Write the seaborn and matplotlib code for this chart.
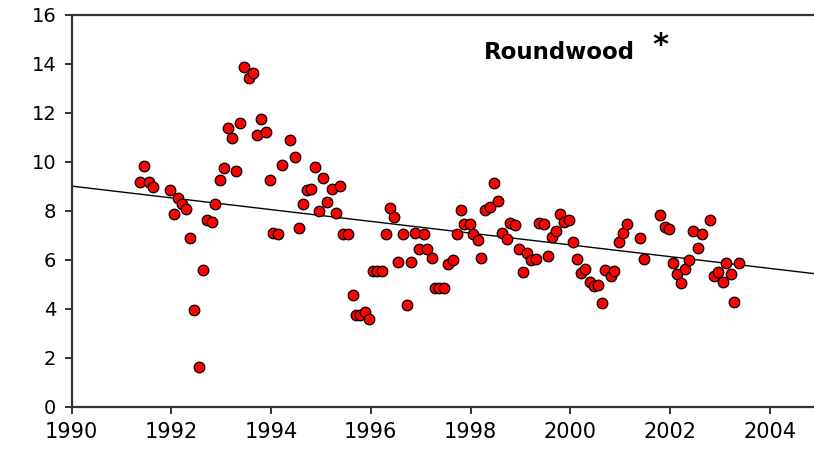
import matplotlib
matplotlib.use('Agg')
import matplotlib.pyplot as plt
import seaborn as sns
import pandas as pd

years = [1991.37, 1991.46, 1991.55, 1991.63, 1991.97, 1992.05, 1992.13, 1992.22, 1992.30, 1992.38,
         1992.46, 1992.55, 1992.63, 1992.72, 1992.81, 1992.88, 1992.97, 1993.05, 1993.14, 1993.22,
         1993.30, 1993.38, 1993.46, 1993.55, 1993.63, 1993.72, 1993.80, 1993.89, 1993.97, 1994.04,
         1994.14, 1994.22, 1994.38, 1994.47, 1994.55, 1994.63, 1994.71, 1994.80, 1994.89, 1994.97,
         1995.05, 1995.13, 1995.22, 1995.30, 1995.38, 1995.45, 1995.55, 1995.64, 1995.70, 1995.78,
         1995.88, 1995.97, 1996.05, 1996.13, 1996.22, 1996.30, 1996.39, 1996.47, 1996.55, 1996.64,
         1996.72, 1996.80, 1996.89, 1996.97, 1997.06, 1997.13, 1997.22, 1997.29, 1997.37, 1997.47,
         1997.55, 1997.64, 1997.72, 1997.80, 1997.87, 1997.98, 1998.04, 1998.14, 1998.22, 1998.29,
         1998.39, 1998.47, 1998.56, 1998.63, 1998.73, 1998.79, 1998.89, 1998.97, 1999.06, 1999.14,
         1999.21, 1999.31, 1999.37, 1999.47, 1999.55, 1999.64, 1999.72, 1999.80, 1999.88, 1999.98,
         2000.06, 2000.13, 2000.22, 2000.29, 2000.40, 2000.48, 2000.56, 2000.64, 2000.70, 2000.81,
         2000.88, 2000.97, 2001.05, 2001.13, 2001.39, 2001.47, 2001.80, 2001.90, 2001.98, 2002.06,
         2002.14, 2002.22, 2002.30, 2002.39, 2002.47, 2002.56, 2002.64, 2002.80, 2002.88, 2002.97,
         2003.06, 2003.13, 2003.22, 2003.29, 2003.39]

values = [9.16, 9.85, 9.16, 8.96, 8.86, 7.87, 8.51, 8.29, 8.08, 6.89,
          3.95, 1.62, 5.57, 7.64, 7.54, 8.29, 9.25, 9.76, 11.40, 10.96,
          9.61, 11.57, 13.87, 13.44, 13.62, 11.10, 11.77, 11.23, 9.27, 7.11,
          7.04, 9.88, 10.90, 10.18, 7.31, 8.30, 8.84, 8.91, 9.80, 7.99,
          9.36, 8.37, 8.89, 7.92, 9.00, 7.04, 7.04, 4.55, 3.76, 3.76,
          3.85, 3.57, 5.54, 5.54, 5.54, 7.04, 8.11, 7.74, 5.91, 7.06,
          4.16, 5.92, 7.08, 6.44, 7.05, 6.44, 6.07, 4.86, 4.86, 4.86,
          5.81, 5.99, 7.06, 8.02, 7.46, 7.47, 7.05, 6.79, 6.06, 8.02,
          8.14, 9.12, 8.41, 7.09, 6.83, 7.49, 7.42, 6.45, 5.51, 6.27,
          5.98, 6.04, 7.49, 7.47, 6.14, 6.93, 7.16, 7.89, 7.54, 7.62,
          6.71, 6.02, 5.48, 5.63, 5.08, 4.93, 4.97, 4.22, 5.58, 5.35,
          5.54, 6.72, 7.08, 7.47, 6.90, 6.02, 7.85, 7.36, 7.25, 5.87,
          5.44, 5.05, 5.63, 6.00, 7.16, 6.48, 7.04, 7.62, 5.33, 5.49,
          5.08, 5.87, 5.44, 4.26, 5.89]

# linear trend shown on the chart
trend_intercept_1990 = 9.01
trend_slope = -0.240

x_ticks = [1990, 1992, 1994, 1996, 1998, 2000, 2002, 2004]
y_ticks = [0, 2, 4, 6, 8, 10, 12, 14, 16]
title = 'Roundwood'
mark = '*'

df = pd.DataFrame({'year': years, 'value': values})

sns.set_style('white')
plt.rcParams['font.family'] = ['DejaVu Sans']
plt.rcParams['text.color'] = 'black'
plt.rcParams['xtick.color'] = 'black'
plt.rcParams['ytick.color'] = 'black'

fig = plt.figure(figsize=(8.14, 4.49), dpi=100)
ax = fig.add_axes([0.0881, 0.0942, 0.9119, 0.8724])

ax.axline((1990, trend_intercept_1990), slope=trend_slope, color='black', lw=1.0, zorder=2)
sns.scatterplot(data=df, x='year', y='value', ax=ax, color='#ff0000', edgecolor='black',
                linewidth=0.9, s=58, zorder=3, legend=False)

ax.set_xlim(1990, 2004.89)
ax.set_ylim(0, 16)
ax.set_xticks(x_ticks)
ax.set_yticks(y_ticks)
ax.set_xlabel('')
ax.set_ylabel('')

for side in ['left', 'bottom', 'top']:
    ax.spines[side].set_color('#333333')
    ax.spines[side].set_linewidth(1.6)
ax.spines['right'].set_visible(False)

ax.tick_params(axis='both', which='major', direction='out', length=5, width=1.4,
               color='#333333', labelcolor='black',
               bottom=True, left=True, top=False, right=False)
ax.tick_params(axis='x', labelsize=15, pad=6)
ax.tick_params(axis='y', labelsize=14, pad=6)

ax.text(1998.27, 14.48, title, fontsize=16.5, fontweight='bold', color='black',
        ha='left', va='center')
ax.text(2001.64, 14.75, mark, fontsize=22, fontweight='bold', color='black',
        ha='left', va='center')

fig.savefig('out.png', dpi=100)
